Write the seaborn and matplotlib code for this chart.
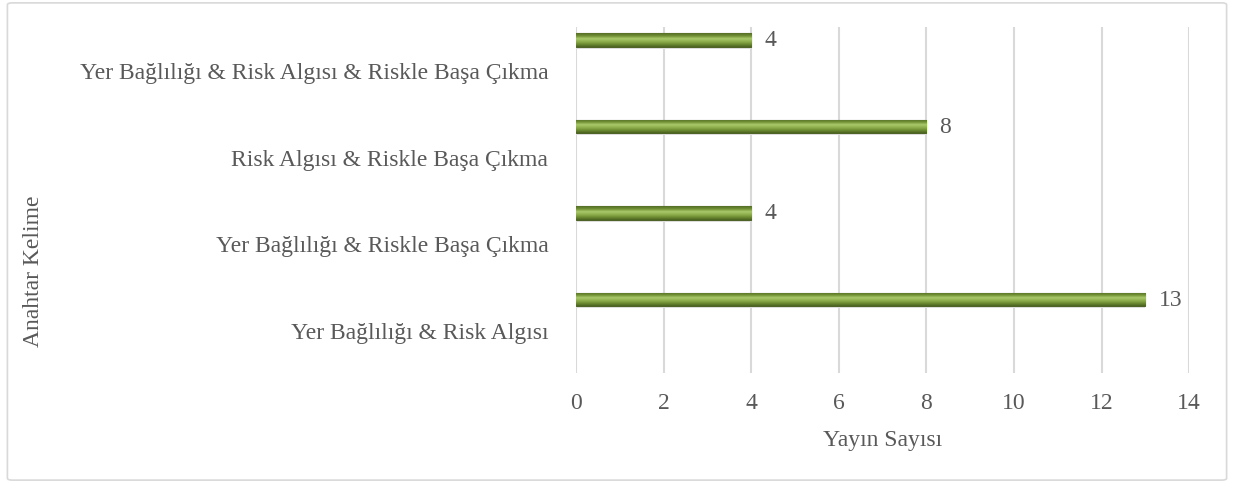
import numpy as np
import pandas as pd
import matplotlib
matplotlib.use('Agg')
import matplotlib.pyplot as plt
import seaborn as sns
from matplotlib.colors import LinearSegmentedColormap
from matplotlib.patches import FancyBboxPatch

# Data (bottom to top)
keywords = ['Yer Bağlılığı & Risk Algısı',
            'Yer Bağlılığı & Riskle Başa Çıkma',
            'Risk Algısı & Riskle Başa Çıkma',
            'Yer Bağlılığı & Risk Algısı & Riskle Başa Çıkma']
publications = [13, 4, 8, 4]
x_ticks = [0, 2, 4, 6, 8, 10, 12, 14]

sns.set_theme(style='white')
plt.rcParams['font.family'] = ['Liberation Serif', 'DejaVu Serif']

text_color = '#595959'
grid_color = '#D9D9D9'
fs = 17

# bars sit in the upper part of each category band (Excel clustered layout)
bar_offset = 0.35
bar_height = 0.16
df = pd.DataFrame({'keyword': keywords, 'count': publications})
df['pos'] = np.arange(len(df)) + bar_offset

fig = plt.figure(figsize=(12.34, 4.85), dpi=100)
ax = fig.add_axes([0.4668, 0.2289, 0.4968, 0.7134])

sns.barplot(data=df, x='count', y='pos', orient='h', native_scale=True,
            width=bar_height, color='#77933C', edgecolor='#4F6228',
            linewidth=0.8, ax=ax, zorder=3)

# gradient fill to mimic the bevelled bars
cmap = LinearSegmentedColormap.from_list(
    'bevel', ['#4A6320', '#6E8C32', '#8FB04E', '#A9C96B', '#6F8F33', '#556F26'])
grad = np.linspace(0, 1, 64).reshape(-1, 1)
for p in ax.patches:
    x0, y0 = p.get_x(), p.get_y()
    w, h = p.get_width(), p.get_height()
    im = ax.imshow(grad, cmap=cmap, aspect='auto', origin='lower',
                   extent=[x0, x0 + w, y0, y0 + h], zorder=4)
    im.set_clip_path(p)
    ax.add_patch(plt.Rectangle((x0, y0 - 0.02), w, 0.02, color='#E6E6E6',
                               zorder=2, lw=0))

for v, y in zip(df['count'], df['pos']):
    ax.text(v + 0.3, y, str(v), va='center', ha='left', fontsize=fs,
            color=text_color)

ax.set_xlim(0, 14)
ax.set_ylim(-0.5, len(df) - 0.5)
ax.set_xticks(x_ticks)
ax.set_xticklabels([str(t) for t in x_ticks])
ax.set_yticks(np.arange(len(df)))
ax.set_yticklabels(keywords)
ax.tick_params(axis='both', length=0, labelsize=fs, colors=text_color)
ax.tick_params(axis='x', pad=14)
ax.tick_params(axis='y', pad=20)
ax.xaxis.grid(True, color=grid_color, linewidth=1.5, zorder=0)
ax.yaxis.grid(False)
ax.set_axisbelow(True)
for s in ax.spines.values():
    s.set_visible(False)

ax.set_xlabel('Yayın Sayısı', fontsize=fs, color=text_color, labelpad=11)
ax.set_ylabel('')
fig.text(0.027, 0.44, 'Anahtar Kelime', rotation=90, ha='center', va='center',
         fontsize=fs, color=text_color)

# outer chart border
border = FancyBboxPatch((0.006, 0.008), 0.988, 0.984,
                        boxstyle='round,pad=0,rounding_size=0.004',
                        transform=fig.transFigure, fill=False,
                        edgecolor='#D9D9D9', linewidth=1.2)
fig.patches.append(border)

fig.savefig('out.png', dpi=100)
